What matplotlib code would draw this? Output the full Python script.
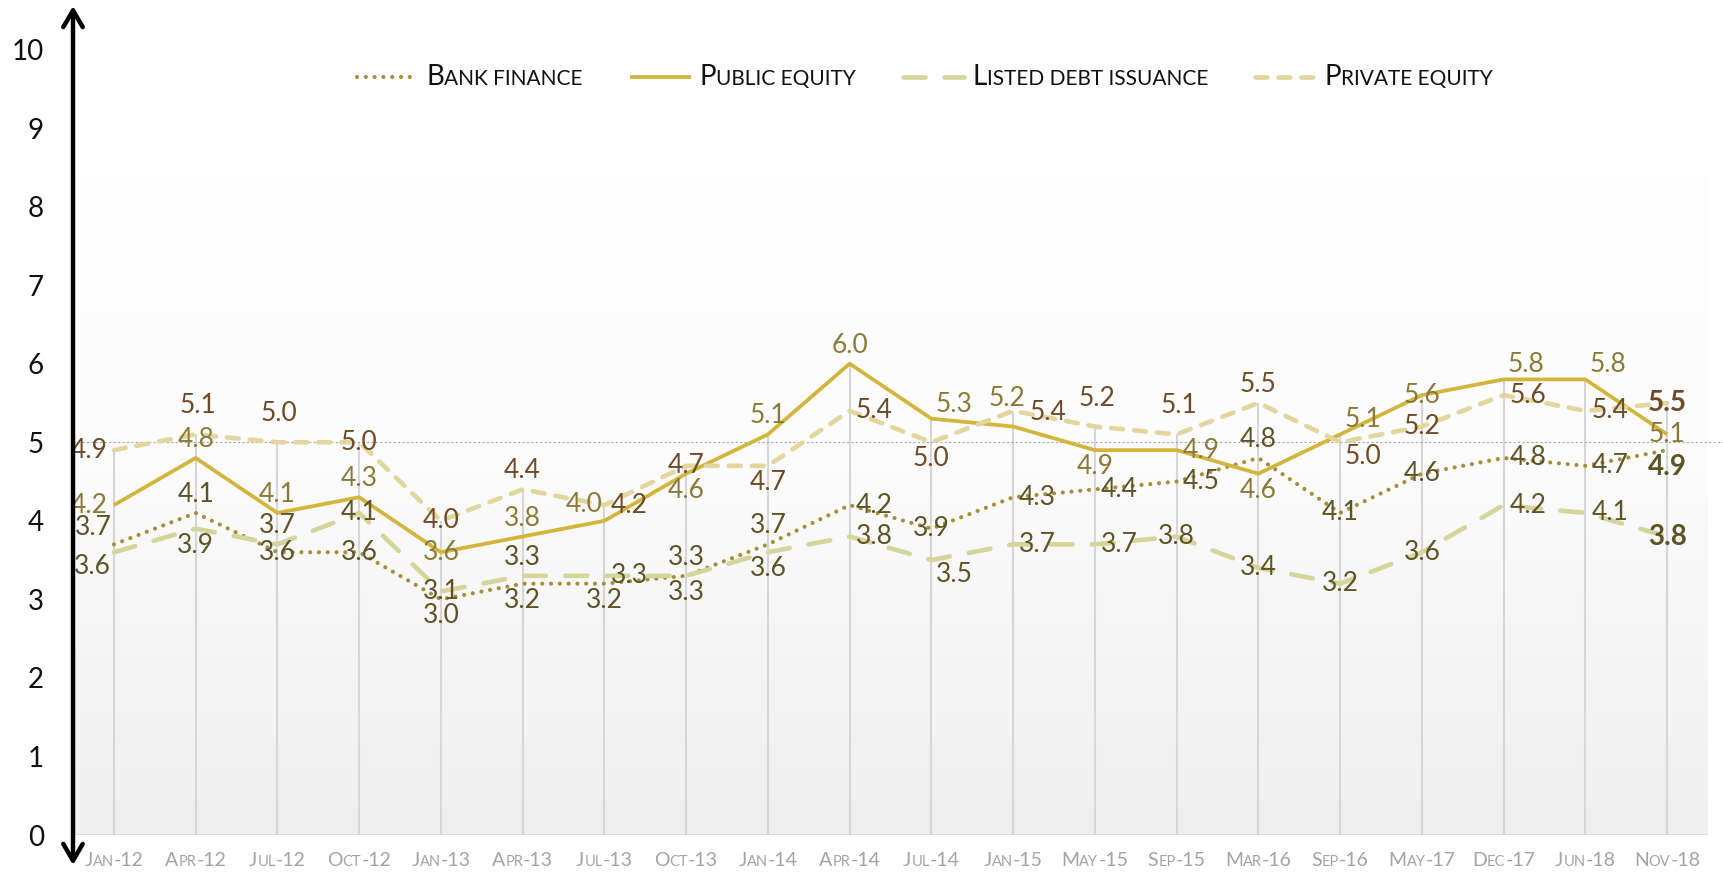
import numpy as np
import matplotlib
matplotlib.use("Agg")
import matplotlib.pyplot as plt
from matplotlib.colors import LinearSegmentedColormap
from matplotlib.lines import Line2D
from matplotlib.offsetbox import TextArea, HPacker, DrawingArea, AnchoredOffsetbox, AnnotationBbox

# Survey dates and index values per funding source
dates = ["Jan-12", "Apr-12", "Jul-12", "Oct-12", "Jan-13", "Apr-13", "Jul-13", "Oct-13",
         "Jan-14", "Apr-14", "Jul-14", "Jan-15", "May-15", "Sep-15", "Mar-16", "Sep-16",
         "May-17", "Dec-17", "Jun-18", "Nov-18"]
bank_finance = [3.7, 4.1, 3.6, 3.6, 3.0, 3.2, 3.2, 3.3, 3.7, 4.2,
                3.9, 4.3, 4.4, 4.5, 4.8, 4.1, 4.6, 4.8, 4.7, 4.9]
public_equity = [4.2, 4.8, 4.1, 4.3, 3.6, 3.8, 4.0, 4.6, 5.1, 6.0,
                 5.3, 5.2, 4.9, 4.9, 4.6, 5.1, 5.6, 5.8, 5.8, 5.1]
listed_debt = [3.6, 3.9, 3.7, 4.1, 3.1, 3.3, 3.3, 3.3, 3.6, 3.8,
               3.5, 3.7, 3.7, 3.8, 3.4, 3.2, 3.6, 4.2, 4.1, 3.8]
private_equity = [4.9, 5.1, 5.0, 5.0, 4.0, 4.4, 4.2, 4.7, 4.7, 5.4,
                  5.0, 5.4, 5.2, 5.1, 5.5, 5.0, 5.2, 5.6, 5.4, 5.5]
y_ticks = list(range(0, 11))

# where each value label sits relative to its point
bank_pos = ["tl", "t", "c", "c", "b", "b", "b", "b", "t", "r",
            "c", "r", "r", "r", "t", "c", "c", "r", "r", "b"]
public_pos = ["l", "t", "t", "t", "c", "t", "tl", "b", "t", "t",
              "tr", "Tl", "b", "r", "b", "tr", "c", "tr", "tr", "c"]
listed_pos = ["bl", "b", "t", "c", "c", "t", "r", "t", "b", "r",
              "br", "r", "r", "c", "c", "c", "c", "r", "r", "c"]
private_pos = ["l", "T", "T", "c", "c", "t", "r", "c", "b", "r",
               "b", "R", "T", "T", "t", "br", "c", "r", "r", "c"]

LABEL_FONT = ["Lato", "DejaVu Sans"]

series = [
    ("Bank finance", bank_finance, bank_pos,
     dict(color="#A48F3A", lw=3.0, linestyle=(0, (0.01, 2.1)), dash_capstyle="round"), "#5E5326"),
    ("Public equity", public_equity, public_pos,
     dict(color="#D3B53C", lw=2.7, linestyle="-", solid_capstyle="butt"), "#8A7A38"),
    ("Listed debt issuance", listed_debt, listed_pos,
     dict(color="#D4D49B", lw=3.3, linestyle=(0, (4.8, 4.2)), dash_capstyle="round"), "#5E5326"),
    ("Private equity", private_equity, private_pos,
     dict(color="#E3D59E", lw=3.3, linestyle=(0, (2.6, 2.4)), dash_capstyle="round"), "#6D4B26"),
]

fig = plt.figure(figsize=(17.23, 8.73), dpi=100)
ax = fig.add_axes([0.0424, 0.0435, 0.9489, 0.8998])
x = np.arange(len(dates))

# soft vertical gradient behind the plot
grad = LinearSegmentedColormap.from_list("bg", ["#FFFFFF", "#FCFCFC", "#EFEFEF"])
ax.imshow(np.linspace(0, 1, 256)[:, None], extent=[-0.5, 19.5, 0, 10], aspect="auto",
          cmap=grad, zorder=0)
ax.set_xlim(-0.5, 19.5)
ax.set_ylim(0, 10)
for s in ax.spines.values():
    s.set_visible(False)

# drop lines from the highest series down to the axis
tops = np.max([bank_finance, public_equity, listed_debt, private_equity], axis=0)
ax.vlines(x, 0, tops, color="#D6D6D6", lw=1.5, zorder=1)
ax.axhline(0, color="#D6D6D6", lw=1.8, zorder=1)
ax.plot([0, 1.02], [5, 5], transform=ax.get_yaxis_transform(), color="#A8A8A8",
        lw=0.8, linestyle=(0, (2, 2)), clip_on=False, zorder=1)

for name, vals, pos, style, lab_color in series:
    ax.plot(x, vals, zorder=3, **style)

offsets = {"t": (0, 6, "center", "bottom"), "T": (2, 16, "center", "bottom"),
           "Tl": (-6, 16, "center", "bottom"), "b": (0, -4, "center", "top"),
           "l": (-6, 0, "right", "center"), "r": (6, 0, "left", "center"),
           "R": (16, -2, "left", "center"),
           "c": (0, 0, "center", "center"), "tr": (4, 2, "left", "bottom"),
           "tl": (-2, 4, "right", "bottom"), "br": (4, -2, "left", "top"),
           "bl": (-3, -2, "right", "top")}
for name, vals, pos, style, lab_color in series:
    for i, (v, p) in enumerate(zip(vals, pos)):
        dx, dy, ha, va = offsets[p]
        last = i == len(vals) - 1
        bold = last and name != "Public equity"
        ax.annotate(f"{v:.1f}", (i, v), xytext=(dx, dy), textcoords="offset pixels",
                    ha=ha, va=va, fontsize=20 if bold else 19, color=lab_color,
                    family=LABEL_FONT, fontweight="bold" if bold else "normal", zorder=5)

ax.set_yticks(y_ticks)
ax.set_yticklabels([str(t) for t in y_ticks], family=LABEL_FONT, fontsize=20, color="#111111")
ax.tick_params(axis="y", length=0, pad=21)
ax.set_xticks([])


def small_caps(text, big, small, color, family):
    # first letters and digits stay full height, lowercase turns into small capitals
    runs = []
    for ch in text:
        is_small = ch.islower() or (ch == " " and runs and runs[-1][1])
        if runs and runs[-1][1] == is_small:
            runs[-1][0] += ch
        else:
            runs.append([ch, is_small])
    boxes = [TextArea(r.upper() if sm else r,
                      textprops=dict(fontsize=small if sm else big, color=color, family=family))
             for r, sm in runs]
    return HPacker(children=boxes, align="baseline", pad=0, sep=0)


for i, d in enumerate(dates):
    ab = AnnotationBbox(small_caps(d, 14, 10.5, "#A3A3A3", LABEL_FONT), (i, 0),
                        xycoords=("data", "axes fraction"), xybox=(0, -12),
                        boxcoords="offset points", box_alignment=(0.5, 1), frameon=False, pad=0)
    ax.add_artist(ab)

# legend built by hand so the labels can use small capitals
items = []
for name, vals, pos, style, lab_color in series:
    da = DrawingArea(48, 16, 0, 0)
    da.add_artist(Line2D([2, 46], [8, 8], **style))
    items.append(HPacker(children=[da, small_caps(name, 20, 15, "#111111", LABEL_FONT)],
                         align="center", pad=0, sep=4))
legend_box = HPacker(children=items, align="center", pad=0, sep=32)
fig.add_artist(AnchoredOffsetbox(loc="center", child=legend_box, frameon=False,
                                 bbox_to_anchor=(0.536, 0.912), bbox_transform=fig.transFigure))

# two-headed vertical arrow along the value axis
fig.add_artist(matplotlib.patches.FancyArrowPatch(
    (73, 8), (73, 867), transform=None, arrowstyle="<->,head_length=12,head_width=7",
    lw=3.2, color="black", shrinkA=0, shrinkB=0))

fig.savefig("out.png", dpi=100)
